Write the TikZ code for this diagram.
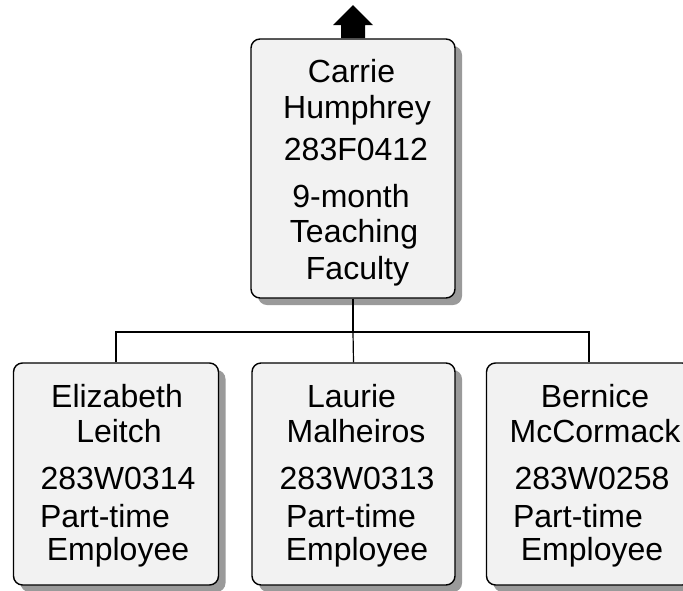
\documentclass[tikz,border=0pt]{standalone}
\usepackage{fontspec}
\setmainfont{Liberation Sans}
\usetikzlibrary{shadows}
\definecolor{boxfill}{HTML}{F2F2F2}
\definecolor{shadowgray}{HTML}{9A9A9A}
\tikzset{
  person/.style={draw=black, line width=1.4pt, fill=boxfill, rounded corners=9pt,
    inner sep=0pt, drop shadow={shadow xshift=7pt, shadow yshift=-7pt, fill=shadowgray, opacity=1}},
  txt/.style={anchor=base, inner sep=0pt, font=\fontsize{32}{36}\selectfont},
  wire/.style={draw=black, line width=1.2pt}
}
\begin{document}
\begin{tikzpicture}[x=1pt, y=-1pt]
\useasboundingbox (0,0) rectangle (683,590);
\fill[white] (0,0) rectangle (683,590);
\begin{scope}
\clip (0,0) rectangle (683,590);
% boxes
\node[person, minimum width=204pt, minimum height=259pt] (top) at (353,168.5) {};
\node[person, minimum width=205pt, minimum height=222pt] (c1) at (116,474) {};
\node[person, minimum width=203pt, minimum height=222pt] (c2) at (353.5,474) {};
\node[person, minimum width=205pt, minimum height=222pt] (c3) at (589,474) {};
\end{scope}
% connectors
\coordinate (bus) at (353,332);
\draw[wire] (top.south) -- (bus);
\draw[wire] (bus) -| (c1.north);
\draw[wire] (bus) -- (c2.north);
\draw[wire] (bus) -| (c3.north);
% up arrow
\coordinate (up) at (top.north);
\fill[black] (341,38) -- (341,25) -- (333,25) -- (353,5) -- (373,25) -- (365,25) -- (365,38) -- cycle;
% top texts
\node[txt] (t1) at (351.5,82) {Carrie};
\node[txt] (t2) at (357,118) {Humphrey};
\node[txt] (t3) at (356,160) {283F0412};
\node[txt] (t4) at (351,207) {9-month};
\node[txt] (t5) at (354,242) {Teaching};
\node[txt] (t6) at (357.5,279) {Faculty};
% child 1
\node[txt] (a1) at (117,407) {Elizabeth};
\node[txt] (a2) at (119,442) {Leitch};
\node[txt] (a3) at (118,489) {283W0314};
\node[txt] (a4) at (105,527) {Part-time};
\node[txt] (a5) at (118,560) {Employee};
% child 2
\node[txt] (b1) at (351.5,407) {Laurie};
\node[txt] (b2) at (356,442) {Malheiros};
\node[txt] (b3) at (357,489) {283W0313};
\node[txt] (b4) at (351,527) {Part-time};
\node[txt] (b5) at (357,560) {Employee};
% child 3
\node[txt] (d1) at (595,407) {Bernice};
\node[txt] (d2) at (595,442) {McCormack};
\node[txt] (d3) at (592,489) {283W0258};
\node[txt] (d4) at (578,527) {Part-time};
\node[txt] (d5) at (592,560) {Employee};
\end{tikzpicture}
\end{document}
